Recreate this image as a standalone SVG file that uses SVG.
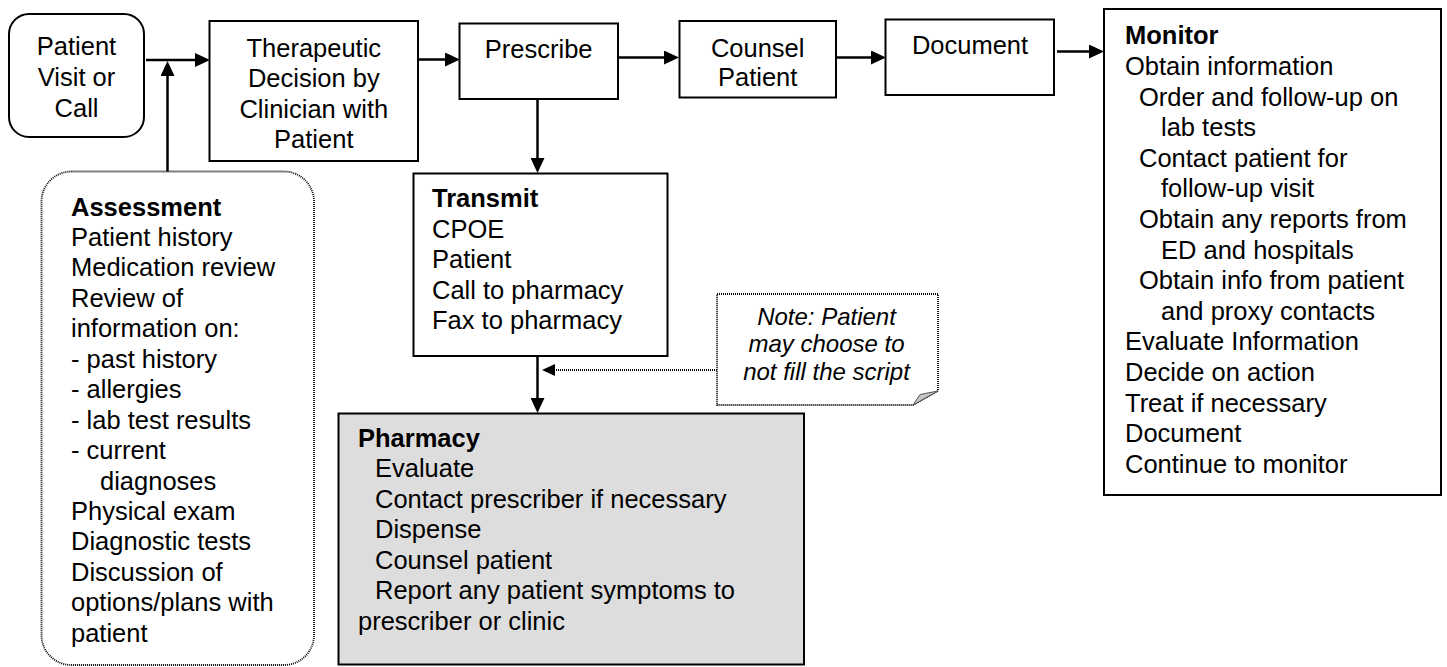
<svg xmlns="http://www.w3.org/2000/svg" width="1447" height="667" viewBox="0 0 1447 667">
  <style>
    text { font-family: "Liberation Sans", Arial, sans-serif; font-size: 25.5px; fill: #000; }
    .c { text-anchor: middle; }
    .b { font-weight: bold; }
    .note { font-style: italic; font-size: 24px; }
    .box { fill: #fff; stroke: #000; stroke-width: 2; }
    .dotbox { fill: #fff; stroke: #000; stroke-width: 1.8; stroke-dasharray: 1 1; }
    .link { fill: none; stroke: #000; stroke-width: 2.5; }
    .dlink { fill: none; stroke: #000; stroke-width: 1.8; stroke-dasharray: 1 1; }
  </style>
  <defs>
    <marker id="arrow" markerUnits="userSpaceOnUse" markerWidth="16" markerHeight="14" refX="5" refY="7" orient="auto">
      <path d="M0,0 L15,7 L0,14 Z" fill="#000"/>
    </marker>
    <marker id="arrowSmall" markerUnits="userSpaceOnUse" markerWidth="14" markerHeight="12" refX="4" refY="6" orient="auto">
      <path d="M0,0 L13,6 L0,12 Z" fill="#000"/>
    </marker>
  </defs>

  <rect width="1447" height="667" fill="#fff"/>

  <!-- connectors -->
  <g id="connectors">
    <line class="link" x1="146" y1="60" x2="200" y2="60" marker-end="url(#arrow)"/>
    <line class="link" x1="167.5" y1="172" x2="167.5" y2="71" marker-end="url(#arrow)"/>
    <line class="link" x1="418" y1="59.5" x2="450" y2="59.5" marker-end="url(#arrow)"/>
    <line class="link" x1="618" y1="57.5" x2="669" y2="57.5" marker-end="url(#arrow)"/>
    <line class="link" x1="836" y1="57.5" x2="876" y2="57.5" marker-end="url(#arrow)"/>
    <line class="link" x1="1057" y1="51.5" x2="1094" y2="51.5" marker-end="url(#arrow)"/>
    <line class="link" x1="537.5" y1="99" x2="537.5" y2="163" marker-end="url(#arrow)"/>
    <line class="link" x1="537.5" y1="356" x2="537.5" y2="403" marker-end="url(#arrow)"/>
    <line class="dlink" x1="717" y1="370" x2="551" y2="370" marker-end="url(#arrowSmall)"/>
  </g>

  <!-- Patient visit or call -->
  <g id="visit">
    <rect class="box" x="9" y="14" width="135" height="123" rx="20"/>
    <text class="c" x="76.5" y="54.5">Patient</text>
    <text class="c" x="76.5" y="85.5">Visit or</text>
    <text class="c" x="76.5" y="116.5">Call</text>
  </g>

  <!-- Therapeutic decision -->
  <g id="decision">
    <rect class="box" x="209.5" y="21" width="208.5" height="140"/>
    <text class="c" x="313.8" y="56.7">Therapeutic</text>
    <text class="c" x="313.8" y="87.2">Decision by</text>
    <text class="c" x="313.8" y="117.7">Clinician with</text>
    <text class="c" x="313.8" y="148.2">Patient</text>
  </g>

  <!-- Prescribe -->
  <g id="prescribe">
    <rect class="box" x="459.5" y="23.5" width="158.5" height="75.5"/>
    <text class="c" x="538.7" y="58.3">Prescribe</text>
  </g>

  <!-- Counsel patient -->
  <g id="counsel">
    <rect class="box" x="679.5" y="21" width="156.5" height="76.5"/>
    <text class="c" x="757.7" y="56.7">Counsel</text>
    <text class="c" x="757.7" y="85.5">Patient</text>
  </g>

  <!-- Document -->
  <g id="document">
    <rect class="box" x="885.5" y="19.5" width="168.5" height="75.5"/>
    <text class="c" x="970" y="54">Document</text>
  </g>

  <!-- Monitor -->
  <g id="monitor">
    <rect class="box" x="1104" y="9" width="337" height="486"/>
    <text class="b" x="1125" y="44.3">Monitor</text>
    <text x="1125" y="74.9">Obtain information</text>
    <text x="1139" y="105.5">Order and follow-up on</text>
    <text x="1161" y="136.1">lab tests</text>
    <text x="1139" y="166.7">Contact patient for</text>
    <text x="1161" y="197.3">follow-up visit</text>
    <text x="1139" y="227.9">Obtain any reports from</text>
    <text x="1161" y="258.5">ED and hospitals</text>
    <text x="1139" y="289.1">Obtain info from patient</text>
    <text x="1161" y="319.7">and proxy contacts</text>
    <text x="1125" y="350.3">Evaluate Information</text>
    <text x="1125" y="380.9">Decide on action</text>
    <text x="1125" y="411.5">Treat if necessary</text>
    <text x="1125" y="442.1">Document</text>
    <text x="1125" y="472.7">Continue to monitor</text>
  </g>

  <!-- Transmit -->
  <g id="transmit">
    <rect class="box" x="413.5" y="173.5" width="254" height="182.5"/>
    <text class="b" x="432" y="207">Transmit</text>
    <text x="432" y="237.5">CPOE</text>
    <text x="432" y="268">Patient</text>
    <text x="432" y="298.5">Call to pharmacy</text>
    <text x="432" y="329">Fax to pharmacy</text>
  </g>

  <!-- Note with folded corner -->
  <g id="note">
    <path class="dotbox" d="M717,294 H938 V391 L913,405 H717 Z"/>
    <path d="M913,405 L938,391 L920,394.5 Z" fill="#c4c4c4" stroke="#555" stroke-width="1"/>
    <text class="c note" x="826.5" y="324.5">Note: Patient</text>
    <text class="c note" x="826.5" y="352">may choose to</text>
    <text class="c note" x="826.5" y="379.5">not fill the script</text>
  </g>

  <!-- Pharmacy -->
  <g id="pharmacy">
    <rect x="338.5" y="413.5" width="465.5" height="251" fill="#dddddd" stroke="#000" stroke-width="2"/>
    <text class="b" x="358" y="446.7">Pharmacy</text>
    <text x="375" y="477.2">Evaluate</text>
    <text x="375" y="507.7">Contact prescriber if necessary</text>
    <text x="375" y="538.2">Dispense</text>
    <text x="375" y="568.7">Counsel patient</text>
    <text x="375" y="599.2">Report any patient symptoms to</text>
    <text x="358" y="629.7">prescriber or clinic</text>
  </g>

  <!-- Assessment -->
  <g id="assessment">
    <rect class="dotbox" x="41.5" y="171.5" width="272.5" height="493.5" rx="30"/>
    <text class="b" x="71" y="215.5">Assessment</text>
    <text x="71" y="245.9">Patient history</text>
    <text x="71" y="276.4">Medication review</text>
    <text x="71" y="306.8">Review of</text>
    <text x="71" y="337.3">information on:</text>
    <text x="71" y="367.7">- past history</text>
    <text x="71" y="398.1">- allergies</text>
    <text x="71" y="428.6">- lab test results</text>
    <text x="71" y="459">- current</text>
    <text x="100" y="489.5">diagnoses</text>
    <text x="71" y="519.9">Physical exam</text>
    <text x="71" y="550.3">Diagnostic tests</text>
    <text x="71" y="580.8">Discussion of</text>
    <text x="71" y="611.2">options/plans with</text>
    <text x="71" y="641.7">patient</text>
  </g>
</svg>
